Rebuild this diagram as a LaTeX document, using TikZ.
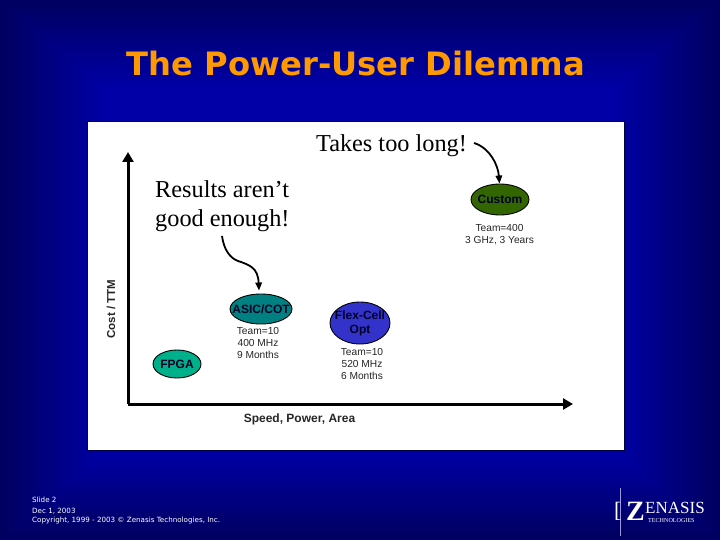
\documentclass[tikz,border=0pt]{standalone}
\usepackage{fontspec}
\setmainfont{Liberation Sans}
\newfontfamily\serifF{Liberation Serif}
\newfontfamily\titleF{DejaVu Sans}
\usetikzlibrary{shapes.geometric,arrows.meta}
\definecolor{navymid}{HTML}{0000A6}
\definecolor{navyedge}{HTML}{000060}
\definecolor{titleor}{HTML}{FF9900}
\definecolor{cfpga}{RGB}{0,176,138}
\definecolor{casic}{RGB}{0,128,128}
\definecolor{cflex}{RGB}{51,51,204}
\definecolor{ccustom}{RGB}{51,102,0}
\tikzset{
 x=1pt,y=-1pt,
 blob/.style={ellipse,draw=black,line width=0.9pt,inner sep=0pt,text=black!85!blue,align=center,font=\fontsize{12}{14}\selectfont\bfseries},
 notetext/.style={align=center,text=black!85,font=\fontsize{10.2}{12}\selectfont},
 bigtext/.style={font=\serifF\fontsize{24.3}{29}\selectfont,text=black,align=left},
 axisline/.style={line width=3pt,-{Triangle[length=10pt,width=11pt]}},
 curvearrow/.style={line width=1.8pt,-{Triangle[length=8pt,width=6.5pt]},black},
 foottext/.style={anchor=west,inner sep=0pt,text=white,font=\titleF\fontsize{7.15}{7.15}\selectfont},
 logotext/.style={text=white,anchor=west,inner sep=0pt}
}
\begin{document}
\begin{tikzpicture}
\useasboundingbox (0,0) rectangle (720,540);
\fill[navyedge] (0,0) rectangle (720,540);
\foreach \i in {0,...,40}{
  \pgfmathsetmacro{\mixv}{\i*2.5}
  \pgfmathsetmacro{\dx}{\i*2.6}
  \pgfmathsetmacro{\dy}{\i*2.2}
  \fill[navymid!\mixv!navyedge] (\dx,\dy) rectangle (720-\dx,540-\dy);
}
\fill[navyedge!70!black] (87,121) rectangle (625,451);
\fill[white] (88,122) rectangle (624,450);
\node[text=titleor,font=\titleF\bfseries\fontsize{32.2}{33}\selectfont] (title) at (356,63) {The Power-User Dilemma};

\coordinate (origin) at (128,404);
\coordinate (ytip) at (128,152);
\coordinate (xtip) at (573,404);
\draw[axisline] (origin) -- (ytip);
\draw[axisline] (origin) -- (xtip);

\node[rotate=90,font=\fontsize{11.5}{12}\selectfont\bfseries,text=black!85] (ylab) at (111,309) {Cost / TTM};
\node[font=\fontsize{12}{12}\selectfont\bfseries,text=black!85] (xlab) at (299.5,419.5) {Speed, Power, Area};

\node[bigtext] (long) at (391.5,146) {Takes too long!};
\node[bigtext,anchor=west] (good) at (151.7,206.5) {Results aren’t\\good enough!};

\node[blob,fill=cfpga,minimum width=48pt,minimum height=28pt] (fpga) at (177,364) {\makebox[0pt]{FPGA}};
\node[blob,fill=casic,minimum width=62pt,minimum height=30pt] (asic) at (261,309) {\makebox[0pt]{ASIC/COT}};
\node[blob,fill=cflex,minimum width=60pt,minimum height=42pt] (flex) at (360,323) {\makebox[0pt]{Flex-Cell}\\\makebox[0pt]{Opt}};
\node[blob,fill=ccustom,minimum width=58pt,minimum height=31pt] (custom) at (500,199.5) {\makebox[0pt]{Custom}};

\node[notetext] (asicn) at (258,343) {Team=10\\400 MHz\\9 Months};
\node[notetext] (flexn) at (362,364) {Team=10\\520 MHz\\6 Months};
\node[notetext] (customn) at (499.5,234.5) {Team=400\\3 GHz, 3 Years};

\coordinate (s1) at (222,236);
\coordinate (s2) at (474,143);
\draw[curvearrow] (s1) .. controls (224,250) and (230,258) .. (238,261) .. controls (250,265) and (258,268) .. ([shift={(-2,-3)}]asic.north);
\draw[curvearrow] (s2) .. controls (490,148) and (498,165) .. ([shift={(-0.5,0)}]custom.north);

\node[foottext] (f1) at (32,500) {Slide 2};
\node[foottext] (f2) at (32,511) {Dec 1, 2003};
\node[foottext] (f3) at (32,521) {Copyright, 1999 - 2003 © Zenasis Technologies, Inc.};

\coordinate (lt) at (620.5,488);
\coordinate (lb) at (620.5,536);
\draw[white!60!navymid,line width=0.6pt] (lt) -- (lb);
\node[logotext,font=\serifF\fontsize{22}{22}\selectfont] (brk) at (614,511) {[};
\node[logotext,font=\serifF\bfseries\fontsize{28}{28}\selectfont] (zed) at (626,511.5) {Z};
\node[logotext,font=\serifF\fontsize{17}{17}\selectfont] (ena) at (645,507.5) {ENASIS};
\node[logotext,font=\serifF\fontsize{6.1}{6.1}\selectfont] (tech) at (648,520.5) {TECHNOLOGIES};
\end{tikzpicture}
\end{document}
